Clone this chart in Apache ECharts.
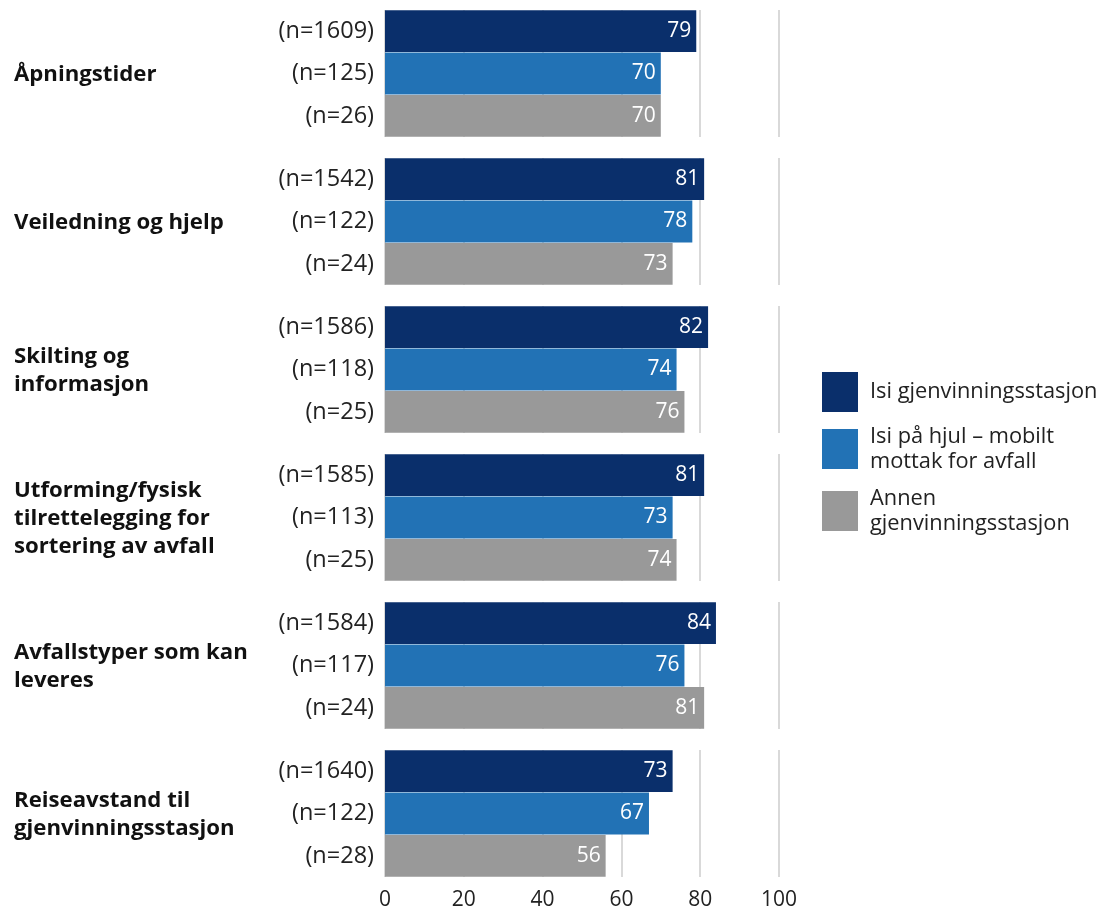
<!DOCTYPE html>
<html><head><meta charset="utf-8">
<script src="https://cdn.jsdelivr.net/npm/echarts@6/dist/echarts.min.js"></script>
<style>html,body{margin:0;padding:0;background:#fff}#c{width:1101px;height:915px}</style>
</head><body><div id="c"></div>
<script>
const groups = ["Åpningstider", "Veiledning og hjelp", "Skilting og\ninformasjon", "Utforming/fysisk\ntilrettelegging for\nsortering av avfall", "Avfallstyper som kan\nleveres", "Reiseavstand til\ngjenvinningsstasjon"];
const seriesNames = ["Isi gjenvinningsstasjon", "Isi på hjul – mobilt mottak for avfall", "Annen gjenvinningsstasjon"];
const legendLabels = ["Isi gjenvinningsstasjon", "Isi på hjul – mobilt\nmottak for avfall", "Annen\ngjenvinningsstasjon"];
const colors = ["#0a2f6b", "#2272b5", "#999999"];
const isiStasjon = [79, 81, 82, 81, 84, 73];
const isiHjul = [70, 78, 74, 73, 76, 67];
const annen = [70, 73, 76, 74, 81, 56];
const nIsiStasjon = [1609, 1542, 1586, 1585, 1584, 1640];
const nIsiHjul = [125, 122, 118, 113, 117, 122];
const nAnnen = [26, 24, 25, 25, 24, 28];
const xTicks = [0, 20, 40, 60, 80, 100];

const values = [isiStasjon, isiHjul, annen];
const ns = [nIsiStasjon, nIsiHjul, nAnnen];
const FONT = "'Open Sans', 'Noto Sans', sans-serif";
const grids = [], xAxes = [], yAxes = [], series = [], titles = [];
const panelTop = 10, panelStep = 148, panelH = 127;
groups.forEach((g, gi) => {
  const top = panelTop + panelStep * gi;
  grids.push({left: 385, width: 394, top: top, height: panelH});
  const last = gi === groups.length - 1;
  xAxes.push({type: 'value', gridIndex: gi, min: xTicks[0], max: xTicks[xTicks.length - 1], interval: 20,
    axisLine: {show: false}, axisTick: {show: false},
    axisLabel: {show: last, fontSize: 21, color: '#222', fontFamily: FONT, margin: 13},
    splitLine: {show: true, lineStyle: {color: '#d9d9d9', width: 2}}});
  yAxes.push({type: 'category', gridIndex: gi, inverse: true,
    data: ns.map(a => '(n=' + a[gi] + ')'),
    axisLine: {show: false}, axisTick: {show: false},
    axisLabel: {fontSize: 23.5, color: '#222', fontFamily: FONT, margin: 11}});
  const lines = g.split('\n').length;
  titles.push({text: g, left: 9, top: top + panelH / 2 - lines * 14 - 4,
    textStyle: {fontSize: 22.2, fontWeight: 'bold', color: '#111', fontFamily: FONT, lineHeight: 28}});
  seriesNames.forEach((sn, si) => {
    const d = [0, 1, 2].map(k => k === si ? values[si][gi] : '-');
    series.push({type: 'bar', name: sn, xAxisIndex: gi, yAxisIndex: gi, stack: 's' + gi,
      data: d, barCategoryGap: '1%', itemStyle: {color: colors[si]},
      label: {show: true, position: 'insideRight', color: '#fff', fontSize: 21, fontFamily: FONT, distance: 5},
      silent: true, animation: false});
  });
});
const chart = echarts.init(document.getElementById('c'));
chart.setOption({
  animation: false,
  title: titles,
  grid: grids, xAxis: xAxes, yAxis: yAxes, series: series,
  legend: {orient: 'vertical', left: 817, top: 367, itemWidth: 36, itemHeight: 40, itemGap: 12,
    data: seriesNames, icon: 'rect',
    formatter: n => legendLabels[seriesNames.indexOf(n)],
    textStyle: {fontSize: 21.8, color: '#222', fontFamily: FONT, lineHeight: 25, padding: [0, 0, 0, 7]}}
});
</script></body></html>
